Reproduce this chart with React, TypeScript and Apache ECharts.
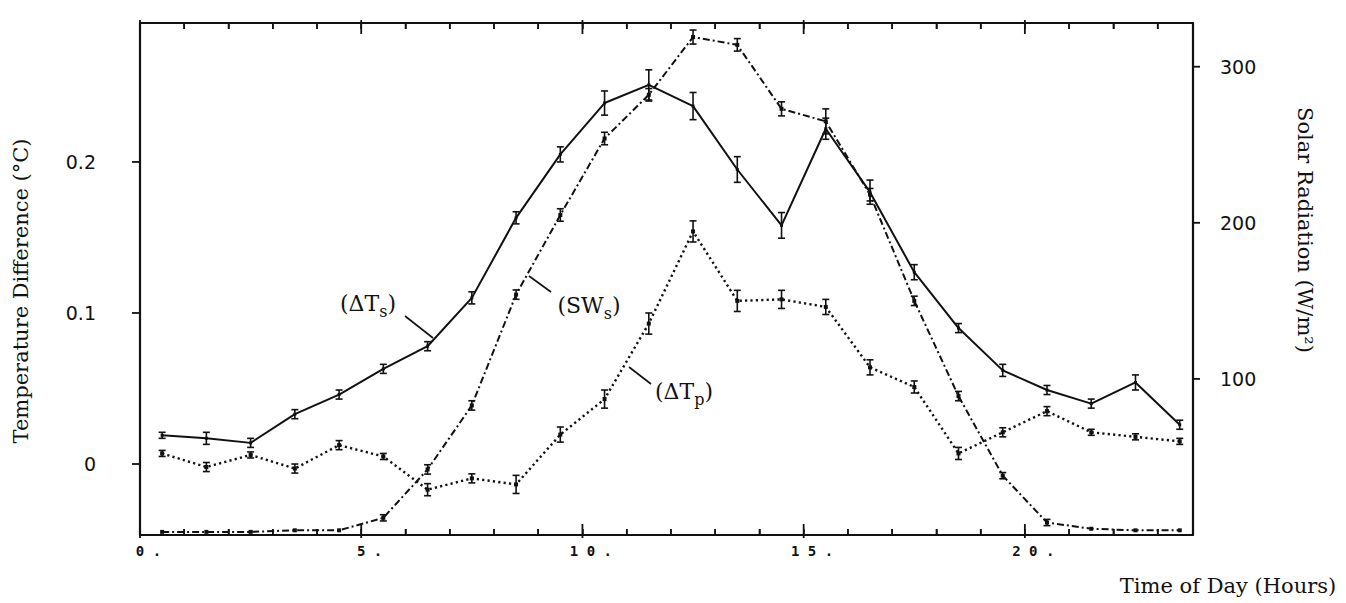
import React, { useEffect, useRef } from 'react';
import * as echarts from 'echarts';

// Time of day (hours) of each hourly mean
const hours = [0.5, 1.5, 2.5, 3.5, 4.5, 5.5, 6.5, 7.5, 8.5, 9.5, 10.5, 11.5, 12.5, 13.5, 14.5, 15.5, 16.5, 17.5, 18.5, 19.5, 20.5, 21.5, 22.5, 23.5];

// (ΔTs) temperature difference, °C (left axis)
const dTs = [0.019, 0.017, 0.014, 0.033, 0.046, 0.063, 0.078, 0.110, 0.163, 0.205, 0.239, 0.251, 0.237, 0.195, 0.158, 0.222, 0.180, 0.127, 0.090, 0.062, 0.049, 0.040, 0.054, 0.026];
const dTsErr = [0.002, 0.004, 0.003, 0.003, 0.003, 0.003, 0.003, 0.004, 0.004, 0.005, 0.008, 0.010, 0.009, 0.0085, 0.0085, 0.007, 0.008, 0.005, 0.003, 0.004, 0.003, 0.003, 0.005, 0.003];

// (ΔTp) temperature difference, °C (left axis)
const dTp = [0.007, -0.002, 0.006, -0.003, 0.0125, 0.005, -0.017, -0.0095, -0.0135, 0.0195, 0.043, 0.093, 0.154, 0.108, 0.109, 0.104, 0.064, 0.051, 0.007, 0.021, 0.035, 0.021, 0.018, 0.015];
const dTpErr = [0.002, 0.003, 0.002, 0.003, 0.003, 0.002, 0.004, 0.003, 0.006, 0.005, 0.006, 0.007, 0.007, 0.007, 0.006, 0.005, 0.005, 0.004, 0.004, 0.003, 0.003, 0.002, 0.002, 0.002];

// (SWs) solar radiation, W/m² (right axis)
const sw = [2, 2, 2, 3, 3, 11, 42, 83, 154, 205, 254, 282, 319, 314, 273, 265, 218, 150, 89, 38, 8, 4, 3, 3];
const swErr = [0, 0, 0, 0, 0, 2, 3, 3, 3, 4, 4, 4, 4.5, 4, 4.5, 8, 4, 3, 3, 2, 2, 0, 0, 0];

// Ticks and tick labels
const xMajorTicks = [0, 5, 10, 15, 20];
const xMinorTicks = [1, 2, 3, 4, 6, 7, 8, 9, 11, 12, 13, 14, 16, 17, 18, 19, 21, 22, 23];
const leftTicks = [0, 0.1, 0.2];
const rightTicks = [100, 200, 300];

// Axis ranges
const X_MIN = 0;
const X_MAX = 23.8;
const YL_MIN = -0.047;
const YL_MAX = 0.292;
const YR_MIN = 0;
const YR_MAX = 328;

const INK = '#111';
const NB = '\u00a0';

function errorBars(vals: number[], errs: number[], yAxisIndex: number) {
  const data: number[][] = [];
  hours.forEach((h, i) => {
    if (errs[i] > 0) data.push([h, vals[i] - errs[i], vals[i] + errs[i]]);
  });
  return {
    type: 'custom',
    xAxisIndex: 0,
    yAxisIndex,
    silent: true,
    clip: false,
    z: 4,
    encode: { x: 0, y: [1, 2] },
    data,
    renderItem: (_params: any, api: any) => {
      const lo = api.coord([api.value(0), api.value(1)]);
      const hi = api.coord([api.value(0), api.value(2)]);
      const w = 3.5;
      const st = { stroke: INK, lineWidth: 1.6 };
      return {
        type: 'group',
        children: [
          { type: 'line', shape: { x1: lo[0], y1: lo[1], x2: hi[0], y2: hi[1] }, style: st },
          { type: 'line', shape: { x1: lo[0] - w, y1: lo[1], x2: lo[0] + w, y2: lo[1] }, style: st },
          { type: 'line', shape: { x1: hi[0] - w, y1: hi[1], x2: hi[0] + w, y2: hi[1] }, style: st },
        ],
      };
    },
  };
}

// Hour ticks on the bottom and top frame edges: data [hour, yMin, yMax]
function xTicks(values: number[], len: number, out: number, w: number) {
  return {
    type: 'custom',
    clip: false,
    z: 10,
    encode: { x: 0, y: [1, 2] },
    data: values.map((v) => [v, YL_MIN, YL_MAX]),
    renderItem: (_p: any, api: any) => {
      const b = api.coord([api.value(0), api.value(1)]);
      const t = api.coord([api.value(0), api.value(2)]);
      return {
        type: 'group',
        children: [
          { type: 'rect', shape: { x: b[0] - w / 2, y: b[1] - len, width: w, height: len + out }, style: { fill: INK } },
          { type: 'rect', shape: { x: t[0] - w / 2, y: t[1] - out, width: w, height: len + out }, style: { fill: INK } },
        ],
      };
    },
  };
}

// Outward ticks on the left / right frame edges: data [xEdge, value, value]
function yTicks(values: number[], yAxisIndex: number, xEdge: number, len: number) {
  return {
    type: 'custom',
    yAxisIndex,
    clip: false,
    z: 10,
    encode: { x: 0, y: [1, 2] },
    data: values.map((v) => [xEdge, v, v]),
    renderItem: (_p: any, api: any) => {
      const p = api.coord([api.value(0), api.value(1)]);
      const x0 = len < 0 ? p[0] + len : p[0];
      return { type: 'rect', shape: { x: x0, y: p[1] - 0.9, width: Math.abs(len), height: 1.8 }, style: { fill: INK } };
    },
  };
}

export default function App() {
  const ref = useRef<HTMLDivElement>(null);

  useEffect(() => {
    if (!ref.current) return;
    const chart = echarts.init(ref.current, null, { renderer: 'svg' });

    const axisLine = { show: true, onZero: false, lineStyle: { color: INK, width: 2.2 } };
    const xLabel = (v: number) => {
      if (xMajorTicks.indexOf(Math.round(v * 1000) / 1000) < 0) return '';
      const digits = String(v).split('').join(NB);
      return NB + NB + digits + NB + '.';
    };

    const serif = '"DejaVu Serif", "Liberation Serif", serif';
    const annRich = {
      m: { fontFamily: serif, fontSize: 22, color: INK, lineHeight: 32, verticalAlign: 'middle' },
      s: { fontFamily: serif, fontSize: 16, color: INK, lineHeight: 32, verticalAlign: 'bottom' },
    };
    const ann = (x: number, y: number, main: string, sub: string) => ({
      type: 'text',
      x,
      y,
      silent: true,
      style: {
        text: `{m|(${main}}{s|${sub}}{m|)}`,
        rich: annRich,
        align: 'center',
        verticalAlign: 'middle',
        textAlign: 'center',
        textVerticalAlign: 'middle',
        fill: INK,
      },
    });
    const seg = (x1: number, y1: number, x2: number, y2: number) => ({
      type: 'line',
      silent: true,
      shape: { x1, y1, x2, y2 },
      style: { stroke: INK, lineWidth: 1.6 },
    });
    const title = (x: number, y: number, text: string, rotation: number) => ({
      type: 'text',
      x,
      y,
      rotation,
      silent: true,
      style: {
        text,
        fontFamily: serif,
        fontSize: 21,
        fill: INK,
        align: 'center',
        verticalAlign: 'middle',
        textAlign: 'center',
        textVerticalAlign: 'middle',
      },
    });

    const hourTick = { show: true, inside: true, length: 6, lineStyle: { color: INK, width: 1.5 } };

    const option: any = {
      animation: false,
      grid: { left: 140, right: 153, top: 23, bottom: 68 },
      xAxis: [
        {
          type: 'value',
          position: 'bottom',
          min: X_MIN,
          max: X_MAX,
          interval: 1,
          splitLine: { show: false },
          axisLine,
          axisTick: hourTick,
          axisLabel: {
            show: true,
            formatter: xLabel,
            margin: 9,
            fontFamily: '"DejaVu Sans Mono", monospace',
            fontWeight: 'bold',
            fontSize: 14,
            color: INK,
          },
        },
        {
          type: 'value',
          position: 'top',
          min: X_MIN,
          max: X_MAX,
          interval: 1,
          splitLine: { show: false },
          axisLine,
          axisTick: hourTick,
          axisLabel: { show: false },
        },
      ],
      yAxis: [
        {
          type: 'value',
          position: 'left',
          min: YL_MIN,
          max: YL_MAX,
          splitLine: { show: false },
          axisLine,
          axisTick: { show: false },
          axisLabel: {
            show: true,
            customValues: leftTicks,
            formatter: (v: number) => (Math.abs(v) < 1e-9 ? '0' : v.toFixed(1)),
            margin: 44,
            fontFamily: '"DejaVu Sans", sans-serif',
            fontSize: 19,
            color: INK,
          },
        },
        {
          type: 'value',
          position: 'right',
          min: YR_MIN,
          max: YR_MAX,
          splitLine: { show: false },
          axisLine,
          axisTick: { show: false },
          axisLabel: {
            show: true,
            customValues: rightTicks,
            formatter: (v: number) => String(v),
            margin: 27,
            fontFamily: '"DejaVu Sans", sans-serif',
            fontSize: 19,
            color: INK,
          },
        },
      ],
      series: [
        xTicks(xMajorTicks, 11, 3, 1.8),
        xTicks(xMinorTicks, 6, 0, 1.5),
        yTicks(leftTicks, 0, X_MIN, -8),
        yTicks(rightTicks, 1, X_MAX, 7),
        {
          name: 'ΔTs',
          type: 'line',
          xAxisIndex: 0,
          yAxisIndex: 0,
          data: hours.map((h, i) => [h, dTs[i]]),
          symbol: 'rect',
          symbolSize: 3,
          itemStyle: { color: INK },
          lineStyle: { color: INK, width: 2 },
          z: 3,
        },
        {
          name: 'ΔTp',
          type: 'line',
          xAxisIndex: 0,
          yAxisIndex: 0,
          data: hours.map((h, i) => [h, dTp[i]]),
          symbol: 'rect',
          symbolSize: 4,
          itemStyle: { color: INK },
          lineStyle: { color: INK, width: 2.4, type: [2.2, 3.2] },
          z: 3,
        },
        {
          name: 'SWs',
          type: 'line',
          xAxisIndex: 0,
          yAxisIndex: 1,
          data: hours.map((h, i) => [h, sw[i]]),
          symbol: 'rect',
          symbolSize: 4,
          itemStyle: { color: INK },
          lineStyle: { color: INK, width: 2, type: [7, 3, 2, 3] },
          z: 3,
        },
        errorBars(dTs, dTsErr, 0),
        errorBars(dTp, dTpErr, 0),
        errorBars(sw, swErr, 1),
      ],
      graphic: {
        elements: [
          title(21, 291, 'Temperature Difference (°C)', Math.PI / 2),
          title(1305, 230, 'Solar Radiation (W/m²)', -Math.PI / 2),
          title(1228, 586, 'Time of Day (Hours)', 0),
          ann(368, 303, 'ΔT', 's'),
          seg(405, 316, 433, 338),
          ann(589, 305, 'SW', 's'),
          seg(529, 276, 551, 292),
          ann(684, 391, 'ΔT', 'p'),
          seg(629, 367, 651, 384),
        ],
      },
    };

    chart.setOption(option);
    return () => chart.dispose();
  }, []);

  return (
    <div
      ref={ref}
      style={{ position: 'fixed', left: 0, top: 0, width: 1346, height: 603, background: '#fff' }}
    />
  );
}
